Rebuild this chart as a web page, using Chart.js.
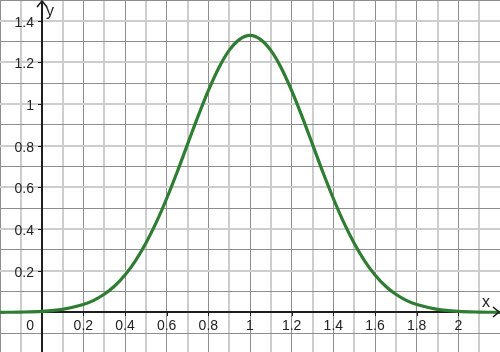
<!DOCTYPE html>
<html>
<head>
<meta charset="utf-8">
<script src="https://cdn.jsdelivr.net/npm/chart.js@4/dist/chart.umd.min.js"></script>
<style>
  html, body { margin: 0; padding: 0; background: #ffffff; }
  #wrap { width: 500px; height: 352px; position: relative; }
</style>
</head>
<body>
<div id="wrap"><canvas id="c" width="500" height="352"></canvas></div>
<script>
// Curve sample points
const xValues = [-0.2, -0.1, 0, 0.1, 0.2, 0.25, 0.3, 0.35, 0.4, 0.45, 0.5, 0.55, 0.6, 0.65, 0.7, 0.75, 0.8, 0.85, 0.9, 0.95, 1.0,
                 1.05, 1.1, 1.15, 1.2, 1.25, 1.3, 1.35, 1.4, 1.45, 1.5, 1.55, 1.6, 1.65, 1.7, 1.75, 1.8, 1.9, 2.0, 2.1, 2.2];
const yValues = [0.0005, 0.0016, 0.005, 0.015, 0.038, 0.058, 0.087, 0.127, 0.18, 0.248, 0.332, 0.432, 0.547, 0.673, 0.807, 0.94, 1.065, 1.174, 1.258, 1.311, 1.33,
                 1.311, 1.258, 1.174, 1.065, 0.94, 0.807, 0.673, 0.547, 0.432, 0.332, 0.248, 0.18, 0.127, 0.087, 0.058, 0.038, 0.015, 0.005, 0.0016, 0.0005];
// Tick labels
const xTickValues = [0.2, 0.4, 0.6, 0.8, 1, 1.2, 1.4, 1.6, 1.8, 2];
const xTickLabels = ["0.2", "0.4", "0.6", "0.8", "1", "1.2", "1.4", "1.6", "1.8", "2"];
const yTickValues = [0.2, 0.4, 0.6, 0.8, 1, 1.2, 1.4];
const yTickLabels = ["0.2", "0.4", "0.6", "0.8", "1", "1.2", "1.4"];
const originLabel = "0";
const xAxisName = "x";
const yAxisName = "y";

const FONT = '"Liberation Sans", Arial, sans-serif';

const points = xValues.map((x, i) => ({ x: x, y: yValues[i] }));

function tenth(v) { return Math.round(v * 10); }

const axesPlugin = {
  id: 'geoAxes',
  beforeDatasetsDraw(chart) {
    const ctx = chart.ctx;
    const xs = chart.scales.x, ys = chart.scales.y;
    const ox = Math.round(xs.getPixelForValue(0));
    const oy = Math.round(ys.getPixelForValue(0));
    const W = chart.width, H = chart.height;
    ctx.save();
    ctx.strokeStyle = '#1e1e1e';
    ctx.lineWidth = 2;
    ctx.lineCap = 'butt';
    // x axis
    ctx.beginPath(); ctx.moveTo(0, oy); ctx.lineTo(W - 1, oy); ctx.stroke();
    // y axis
    ctx.beginPath(); ctx.moveTo(ox, H); ctx.lineTo(ox, 1); ctx.stroke();
    // ticks
    ctx.lineWidth = 1;
    xTickValues.forEach(v => {
      const px = Math.round(xs.getPixelForValue(v)) + 0.5;
      ctx.beginPath(); ctx.moveTo(px, oy); ctx.lineTo(px, oy + 4); ctx.stroke();
    });
    yTickValues.forEach(v => {
      const py = Math.round(ys.getPixelForValue(v)) + 0.5;
      ctx.beginPath(); ctx.moveTo(ox - 4, py); ctx.lineTo(ox, py); ctx.stroke();
    });
    // labels
    ctx.fillStyle = '#222222';
    ctx.font = '14px ' + FONT;
    ctx.textAlign = 'center';
    ctx.textBaseline = 'middle';
    xTickValues.forEach((v, i) => {
      ctx.fillText(xTickLabels[i], xs.getPixelForValue(v), oy + 14);
    });
    ctx.textAlign = 'right';
    yTickValues.forEach((v, i) => {
      ctx.fillText(yTickLabels[i], ox - 8, ys.getPixelForValue(v) + 2);
    });
    ctx.fillText(originLabel, ox - 8, oy + 14);
    ctx.restore();
  },
  afterDatasetsDraw(chart) {
    const ctx = chart.ctx;
    const xs = chart.scales.x, ys = chart.scales.y;
    const ox = Math.round(xs.getPixelForValue(0));
    const oy = Math.round(ys.getPixelForValue(0));
    const W = chart.width;
    ctx.save();
    ctx.strokeStyle = '#1e1e1e';
    ctx.lineWidth = 1.6;
    ctx.lineJoin = 'miter';
    // x arrow
    ctx.beginPath();
    ctx.moveTo(W - 7, oy - 5); ctx.lineTo(W - 1, oy); ctx.lineTo(W - 7, oy + 5);
    ctx.stroke();
    // y arrow
    ctx.beginPath();
    ctx.moveTo(ox - 5, 7); ctx.lineTo(ox, 1); ctx.lineTo(ox + 5, 7);
    ctx.stroke();
    // axis names
    ctx.fillStyle = '#222222';
    ctx.font = '16px ' + FONT;
    ctx.textAlign = 'left';
    ctx.textBaseline = 'alphabetic';
    ctx.fillText(xAxisName, W - 18, oy - 5);
    ctx.fillText(yAxisName, ox + 4, 16);
    ctx.restore();
  }
};

const gridX = {
  color: c => (tenth(c.tick.value) % 2 === 0 ? '#8e8e8e' : '#cdcdcd'),
  lineWidth: c => (tenth(c.tick.value) % 2 === 0 ? 1 : 2),
  drawTicks: false
};
const gridY = {
  color: c => (Math.abs(tenth(c.tick.value)) % 2 === 1 ? '#8e8e8e' : '#cdcdcd'),
  lineWidth: c => (Math.abs(tenth(c.tick.value)) % 2 === 1 ? 1 : 2),
  drawTicks: false
};

new Chart(document.getElementById('c'), {
  type: 'line',
  data: {
    datasets: [{
      data: points,
      borderColor: '#2e7d32',
      borderWidth: 3.2,
      pointRadius: 0,
      tension: 0.35,
      fill: false
    }]
  },
  options: {
    responsive: false,
    animation: false,
    layout: { padding: 0 },
    plugins: { legend: { display: false }, tooltip: { enabled: false } },
    scales: {
      x: {
        type: 'linear', min: -0.2, max: 2.2,
        ticks: { display: false, stepSize: 0.1, includeBounds: false },
        grid: gridX,
        border: { display: false }
      },
      y: {
        type: 'linear', min: -0.19, max: 1.5,
        ticks: { display: false, stepSize: 0.1, includeBounds: false },
        grid: gridY,
        border: { display: false }
      }
    }
  },
  plugins: [axesPlugin]
});
</script>
</body>
</html>
